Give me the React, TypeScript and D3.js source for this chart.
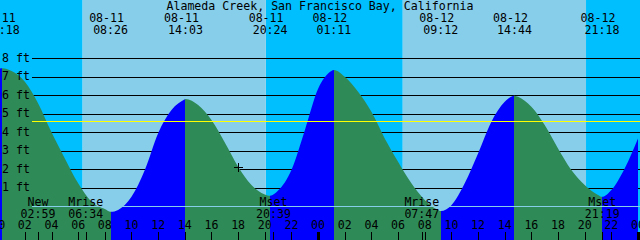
import React from "react";
import * as d3 from "d3";

const title = "Alameda Creek, San Francisco Bay, California";
const startDay = 11;

const tideEventDates = ["08-11", "08-11", "08-11", "08-11", "08-12", "08-12", "08-12", "08-12"];
const tideEventTimes = ["00:18", "08:26", "14:03", "20:24", "01:11", "09:12", "14:44", "21:18"];
const tideEventHeights = [7.46, -0.3, 5.8, 0.57, 7.37, -0.26, 5.98, 0.51];
const tideEventTypes = ["high", "low", "high", "low", "high", "low", "high", "low"];

// hourly heights (ft) from 08-11 00:00 to 08-13 00:00
const hourlyHeights = [
  7.44, 7.31, 6.73, 5.56, 4.0, 2.59, 1.24, 0.25, -0.15, -0.2, 0.51, 1.96,
  3.95, 5.2, 5.78, 5.47, 4.66, 3.45, 2.14, 1.15, 0.64, 0.85, 1.96, 4.1,
  6.35, 7.31, 7.0, 6.19, 5.11, 3.67, 2.41, 1.24, 0.34, -0.2, 0.06, 1.24,
  2.85, 4.57, 5.65, 5.92, 5.38, 4.39, 3.13, 1.96, 1.15, 0.61, 0.88, 2.05,
  3.67,
];

const moonEventNames = ["New", "Mrise", "Mset", "Mrise", "Mset"];
const moonEventDates = ["08-11", "08-11", "08-11", "08-12", "08-12"];
const moonEventTimes = ["02:59", "06:34", "20:39", "07:47", "21:19"];

const sunriseDates = ["08-11", "08-12"];
const sunriseTimes = ["06:20", "06:21"];
const sunsetDates = ["08-11", "08-12"];
const sunsetTimes = ["20:05", "20:06"];

const heightTicks = [1, 2, 3, 4, 5, 6, 7, 8];
const meanSeaLevel = 4.63;
const hourTicks = d3.range(0, 49, 2);
const nowDate = "08-11";
const nowTime = "18:00";

const W = 640;
const H = 240;
const FONT = "'DejaVu Sans Mono', monospace";
const FS = 11.6;

const NIGHT = "#00BFFF";
const DAY = "#87CEEB";
const FLOOD = "#0000FF";
const EBB = "#2E8B57";

function toHours(date: string, time: string): number {
  const day = parseInt(date.slice(3), 10) - startDay;
  const [h, m] = time.split(":").map(Number);
  return day * 24 + h + m / 60;
}

const x = d3.scaleLinear().domain([0, 48]).range([-1.8, 638.0]);
const y = d3.scaleLinear().domain([0, 8]).range([206.3, 58.3]);
const crisp = (v: number) => Math.round(v) + 0.5;

export default function App() {
  const events = tideEventTimes.map((t, i) => ({
    t: toHours(tideEventDates[i], t),
    h: tideEventHeights[i],
    type: tideEventTypes[i],
    date: tideEventDates[i],
    time: t,
  }));

  const pts = hourlyHeights
    .map((h, i) => ({ t: i, h }))
    .concat(events.map((e) => ({ t: e.t, h: e.h })))
    .sort((a, b) => a.t - b.t);

  const area = d3
    .area<{ t: number; h: number }>()
    .x((d) => x(d.t))
    .y0(H)
    .y1((d) => y(d.h))
    .curve(d3.curveMonotoneX);

  // phase segments
  const bounds = [-2, ...events.map((e) => e.t), 50];
  const segs = [] as { a: number; b: number; rising: boolean }[];
  for (let i = 0; i < bounds.length - 1; i++) {
    const next = i < events.length ? events[i] : null;
    const rising = next ? next.type === "high" : events[events.length - 1].type === "low";
    segs.push({ a: bounds[i], b: bounds[i + 1], rising });
  }

  const sr = sunriseTimes.map((t, i) => toHours(sunriseDates[i], t));
  const ss = sunsetTimes.map((t, i) => toHours(sunsetDates[i], t));
  const nights = [
    { a: -2, b: sr[0] },
    { a: ss[0], b: sr[1] },
    { a: ss[1], b: 50 },
  ];
  const days = [
    { a: sr[0], b: ss[0] },
    { a: sr[1], b: ss[1] },
  ];

  const moons = moonEventNames.map((n, i) => ({
    name: n,
    time: moonEventTimes[i],
    t: toHours(moonEventDates[i], moonEventTimes[i]),
  }));

  const nowT = toHours(nowDate, nowTime);
  const nowH = hourlyHeights[Math.round(nowT)];
  const px = x(nowT);
  const py = y(nowH);

  const textProps = {
    fontFamily: FONT,
    fontSize: FS,
    fill: "#000",
  } as const;

  return (
    <svg
      width={W}
      height={H}
      style={{ position: "absolute", left: 0, top: 0, display: "block" }}
    >
      <defs>
        <clipPath id="tide">
          <path d={area(pts) || ""} />
        </clipPath>
      </defs>
      {nights.map((n, i) => (
        <rect key={"n" + i} x={x(n.a)} y={0} width={x(n.b) - x(n.a)} height={H} fill={NIGHT} />
      ))}
      {days.map((d, i) => (
        <rect key={"d" + i} x={x(d.a)} y={0} width={x(d.b) - x(d.a)} height={H} fill={DAY} />
      ))}
      {heightTicks.map((v) => (
        <line
          key={"g" + v}
          x1={32}
          x2={W}
          y1={crisp(y(v))}
          y2={crisp(y(v))}
          stroke="#000"
          strokeWidth={1}
          shapeRendering="crispEdges"
        />
      ))}
      <g clipPath="url(#tide)">
        {segs.map((s, i) => (
          <rect
            key={"s" + i}
            x={x(s.a)}
            y={0}
            width={x(s.b) - x(s.a)}
            height={H}
            fill={s.rising ? FLOOD : EBB}
            shapeRendering="crispEdges"
          />
        ))}
      </g>
      <line
        x1={32}
        x2={W}
        y1={crisp(y(0))}
        y2={crisp(y(0))}
        stroke={DAY}
        strokeWidth={1}
        shapeRendering="crispEdges"
      />
      <line
        x1={32}
        x2={W}
        y1={crisp(y(meanSeaLevel))}
        y2={crisp(y(meanSeaLevel))}
        stroke="#FFFF00"
        strokeWidth={1}
        shapeRendering="crispEdges"
      />
      {heightTicks.map((v) => (
        <text key={"l" + v} x={2} y={y(v) + 3.6} {...textProps}>
          {v} ft
        </text>
      ))}
      <text x={W / 2} y={9.8} textAnchor="middle" {...textProps}>
        {title}
      </text>
      {events.map((e, i) => (
        <g key={"e" + i}>
          <text x={x(e.t) - 4} y={21.5} textAnchor="middle" {...textProps}>
            {e.date}
          </text>
          <text x={x(e.t)} y={34} textAnchor="middle" {...textProps}>
            {e.time}
          </text>
        </g>
      ))}
      {moons.map((m, i) => (
        <g key={"m" + i}>
          <text x={x(m.t)} y={205.6} textAnchor="middle" {...textProps}>
            {m.name}
          </text>
          <text x={x(m.t)} y={217.6} textAnchor="middle" {...textProps}>
            {m.time}
          </text>
          <line
            x1={crisp(x(m.t))}
            x2={crisp(x(m.t))}
            y1={232}
            y2={H}
            stroke="#000"
            shapeRendering="crispEdges"
          />
        </g>
      ))}
      {hourTicks.map((t) => (
        <g key={"h" + t}>
          <text x={x(t)} y={229.3} textAnchor="middle" {...textProps}>
            {String(t % 24).padStart(2, "0")}
          </text>
          {t % 24 === 0 ? (
            <rect x={x(t) - 1.5} y={232} width={3} height={8} fill="#000" shapeRendering="crispEdges" />
          ) : (
            <line
              x1={crisp(x(t))}
              x2={crisp(x(t))}
              y1={232}
              y2={H}
              stroke="#000"
              shapeRendering="crispEdges"
            />
          )}
        </g>
      ))}
      <g stroke="#000" strokeWidth={1} shapeRendering="crispEdges">
        <line x1={Math.round(px) - 4} x2={Math.round(px) + 5} y1={crisp(py)} y2={crisp(py)} />
        <line x1={crisp(px)} x2={crisp(px)} y1={Math.round(py) - 4} y2={Math.round(py) + 5} />
      </g>
    </svg>
  );
}
